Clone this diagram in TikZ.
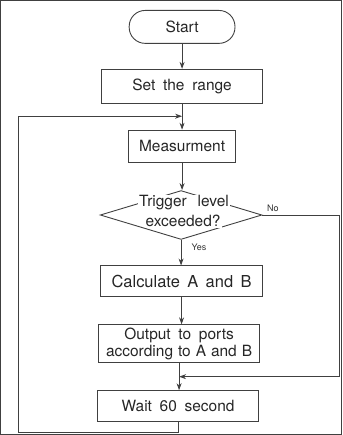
\documentclass[tikz,border=0pt]{standalone}
\usepackage{fontspec}
\setmainfont{TeX Gyre Heros}
\usetikzlibrary{arrows.meta,shapes.geometric}
\newcommand{\mybigfont}{\fontsize{15.5}{17}\selectfont\spaceskip=0.5em\relax}
\newcommand{\mycalcfont}{\fontsize{16.5}{18}\selectfont\spaceskip=0.45em\relax}
\begin{document}
\begin{tikzpicture}[x=1pt,y=-1pt,
  line width=0.9pt,
  every path/.style={draw=black!75},
  font=\mybigfont,
  box/.style={draw=black!75,rectangle,inner sep=0pt,align=center,text=black!85},
  arr/.style={-{Stealth[length=7pt,width=5pt]}},
  lbl/.style={font=\fontsize{9}{10}\selectfont,text=black!80,inner sep=0pt}]
\useasboundingbox (0,0) rectangle (342,435);
\node[box,rounded corners=16pt,minimum width=106pt,minimum height=33pt] (start) at (182,26.5) {Start};
\node[box,minimum width=162pt,minimum height=34pt] (range) at (182,86) {Set the range};
\node[box,minimum width=107pt,minimum height=32pt] (meas) at (182,146) {Measurment};
\node[draw=black!75,diamond,minimum width=162pt,minimum height=49pt,inner sep=0pt] (dec) at (181,215) {};
\node[fill=white,inner sep=1pt,text=black!85] (t1) at (184,203) {\spaceskip=0.7em\relax Trigger level};
\node[fill=white,inner sep=1pt,text=black!85] (t2) at (183,221) {exceeded?};
\node[box,minimum width=162pt,minimum height=31pt,font=\mycalcfont] (calc) at (181.5,281.5) {Calculate A and B};
\node[box,minimum width=162pt,minimum height=38pt] (out) at (179,344) {Output to ports\\{\spaceskip=0.32em\relax according to A and B}};
\node[box,minimum width=162pt,minimum height=31pt] (wait) at (178,406.5) {Wait 60 second};
\node[lbl] (no) at (273,208) {No};
\node[lbl] (yes) at (199,247) {Yes};
\coordinate (join) at (182,116);
\coordinate (bl) at (18,433);
\coordinate (re) at (340,215);
\coordinate (merge) at (179,377);
\draw[arr] (start) -- (range);
\draw[arr] (range) -- (meas);
\draw[arr] (meas.south) -- (meas.south |- dec.north);
\draw[arr] (dec.south) -- (dec.south |- calc.north);
\draw[arr] (calc.south) -- (calc.south |- out.north);
\draw[arr] (out.south) -- (out.south |- wait.north);
\draw (dec.east) -- (re);
\draw[arr] (re) |- (merge);
\draw[arr] (wait.south) |- (bl) |- (join);
\end{tikzpicture}
\end{document}
